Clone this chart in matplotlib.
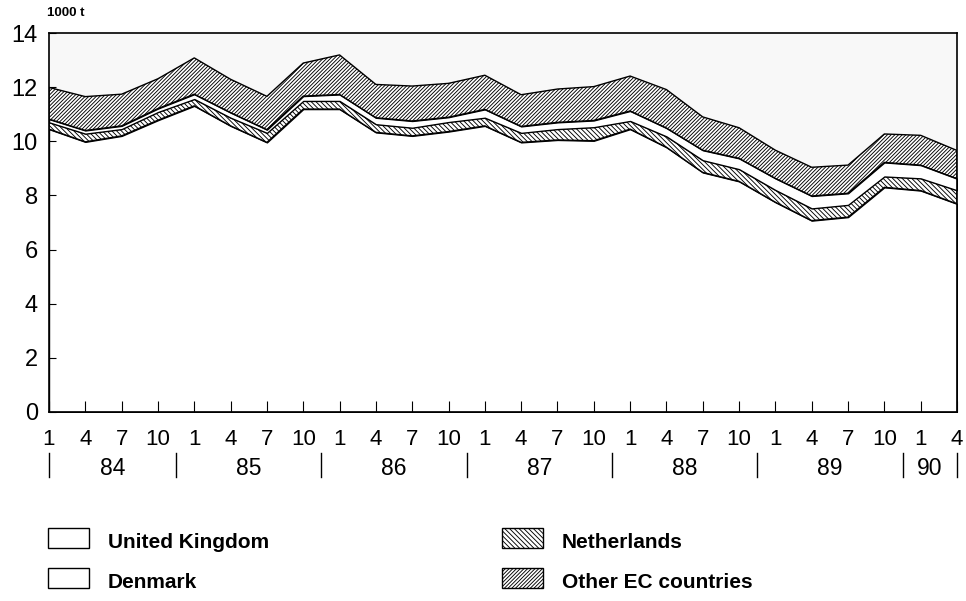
import numpy as np
import matplotlib
matplotlib.use('Agg')
import matplotlib.pyplot as plt
from matplotlib.patches import Rectangle
import matplotlib.transforms as mtransforms

plt.rcParams['font.family'] = ['Liberation Sans', 'DejaVu Sans']
plt.rcParams['hatch.linewidth'] = 0.65

# quarterly values, 1000 t, 1984 Q1 .. 1990 Q2
months = ['1', '4', '7', '10'] * 6 + ['1', '4']
years = ['84', '85', '86', '87', '88', '89', '90']
uk = [10.45, 9.98, 10.20, 10.78, 11.31, 10.57, 9.96, 11.19, 11.19, 10.33, 10.20, 10.36, 10.57,
      9.96, 10.05, 10.02, 10.45, 9.78, 8.85, 8.52, 7.75, 7.07, 7.20, 8.30, 8.18, 7.69]
netherlands = [0.25, 0.30, 0.25, 0.30, 0.25, 0.30, 0.35, 0.30, 0.30, 0.30, 0.30, 0.35, 0.30,
               0.35, 0.40, 0.50, 0.30, 0.40, 0.45, 0.45, 0.45, 0.45, 0.45, 0.40, 0.45, 0.50]
denmark = [0.12, 0.12, 0.12, 0.13, 0.18, 0.19, 0.12, 0.18, 0.24, 0.24, 0.25, 0.18, 0.31,
           0.24, 0.25, 0.25, 0.37, 0.31, 0.37, 0.40, 0.43, 0.46, 0.43, 0.52, 0.49, 0.43]
other_ec = [1.17, 1.25, 1.17, 1.10, 1.34, 1.23, 1.23, 1.22, 1.46, 1.23, 1.29, 1.25, 1.26,
            1.17, 1.23, 1.25, 1.29, 1.42, 1.23, 1.13, 1.04, 1.06, 1.04, 1.05, 1.10, 1.04]

x = np.arange(len(months))
nl_hatch = '\\' * 7
other_hatch = '/' * 9
layers = [(uk, None), (netherlands, nl_hatch), (denmark, None), (other_ec, other_hatch)]

fig = plt.figure(figsize=(9.66, 6.01), dpi=100)
ax = fig.add_axes([49 / 966, 1 - 412 / 601, (957 - 49) / 966, (412 - 33) / 601])
ax.set_facecolor('#f8f8f8')

base = np.zeros(len(x))
for values, hatch in layers:
    top = base + np.array(values)
    ax.fill_between(x, base, top, facecolor='white', edgecolor='black',
                    hatch=hatch, linewidth=1.0)
    base = top

ax.set_xlim(0, len(x) - 1)
ax.set_ylim(0, 14)
ax.set_yticks(range(0, 15, 2))
ax.set_xticks(x)
ax.set_xticklabels([])
ax.tick_params(axis='y', direction='in', length=5, labelsize=17, pad=8)
ax.tick_params(axis='x', direction='in', length=8)
for s in ax.spines.values():
    s.set_linewidth(1.2)

# month and year labels under the axis
trans = mtransforms.blended_transform_factory(ax.transData, ax.transAxes)
for xi, m in zip(x, months):
    ax.text(xi, -0.072, m, transform=trans, ha='center', va='center', fontsize=16)

seps = [0] + [3.5 + 4 * i for i in range(6)] + [len(x) - 1]
for s in seps:
    ax.plot([s, s], [-0.108, -0.172], transform=trans, color='black', lw=1, clip_on=False)
for i, yr in enumerate(years):
    ax.text((seps[i] + seps[i + 1]) / 2, -0.148, yr, transform=trans,
            ha='center', va='center', fontsize=16.5)

fig.text(47 / 966, 1 - 13 / 601, '1000 t', fontsize=9.5, fontweight='bold', va='center')

# legend
legend_items = [('United Kingdom', None, 48, 538), ('Denmark', None, 48, 578),
                ('Netherlands', nl_hatch, 502, 538), ('Other EC countries', other_hatch, 502, 578)]
for label, hatch, px, py in legend_items:
    fig.add_artist(Rectangle((px / 966, 1 - (py + 10) / 601), 41 / 966, 20 / 601,
                             transform=fig.transFigure, facecolor='white',
                             edgecolor='black', hatch=hatch, lw=1.0))
    fig.text((px + 60) / 966, 1 - (py + 4) / 601, label, fontsize=15,
             fontweight='bold', va='center')

fig.savefig('out.png', dpi=100, facecolor='white')
